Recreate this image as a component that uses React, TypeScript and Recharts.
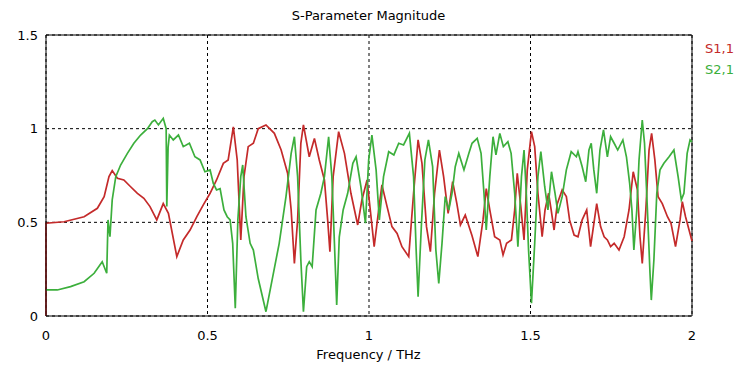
import React from "react";
import {
  LineChart,
  Line,
  XAxis,
  YAxis,
  CartesianGrid,
  ReferenceLine,
} from "recharts";

// S1,1 trace (frequency in THz, magnitude)
const s11Freq = [
  0, 0, 0.056, 0.118, 0.159, 0.18, 0.195, 0.205, 0.221, 0.241, 0.262, 0.283, 0.303, 0.322,
  0.343, 0.363, 0.379, 0.405, 0.425, 0.446, 0.467, 0.487, 0.508, 0.528, 0.549, 0.564, 0.58,
  0.592, 0.603, 0.613, 0.626, 0.642, 0.657, 0.681, 0.707, 0.728, 0.748, 0.759, 0.769, 0.779,
  0.789, 0.797, 0.815, 0.831, 0.846, 0.862, 0.872, 0.879, 0.889, 0.906, 0.924, 0.944, 0.965,
  0.978, 0.994, 1.004, 1.016, 1.03, 1.04, 1.056, 1.071, 1.087, 1.102, 1.123, 1.138, 1.152,
  1.164, 1.178, 1.19, 1.203, 1.218, 1.231, 1.245, 1.259, 1.272, 1.283, 1.298, 1.319, 1.337,
  1.353, 1.363, 1.374, 1.389, 1.405, 1.415, 1.426, 1.441, 1.451, 1.459, 1.47, 1.48, 1.49,
  1.503, 1.513, 1.523, 1.536, 1.545, 1.556, 1.564, 1.573, 1.583, 1.598, 1.611, 1.621, 1.635,
  1.647, 1.66, 1.674, 1.686, 1.705, 1.717, 1.728, 1.738, 1.748, 1.759, 1.774, 1.79, 1.805,
  1.818, 1.831, 1.839, 1.846, 1.857, 1.867, 1.875, 1.885, 1.895, 1.908, 1.924, 1.935, 1.949,
  1.963, 1.97, 1.98, 2.0,
];
const s11Mag = [
  0, 0.495, 0.503, 0.53, 0.575, 0.637, 0.744, 0.776, 0.735, 0.726, 0.69, 0.655, 0.628, 0.584,
  0.513, 0.6, 0.548, 0.317, 0.406, 0.459, 0.53, 0.593, 0.655, 0.726, 0.815, 0.833, 1.01,
  0.833, 0.406, 0.744, 0.904, 0.922, 1.0, 1.02, 0.975, 0.886, 0.762, 0.566, 0.281, 0.513,
  0.922, 1.02, 0.85, 0.948, 0.833, 0.726, 0.513, 0.343, 0.744, 0.984, 0.868, 0.655, 0.486,
  0.619, 0.726, 0.566, 0.37, 0.566, 0.7, 0.584, 0.477, 0.441, 0.37, 0.317, 0.655, 0.94,
  0.815, 0.477, 0.343, 0.655, 0.886, 0.744, 0.548, 0.717, 0.6, 0.486, 0.539, 0.428, 0.317,
  0.513, 0.68, 0.566, 0.423, 0.406, 0.326, 0.388, 0.406, 0.566, 0.762, 0.584, 0.406, 0.78,
  0.984, 0.904, 0.655, 0.423, 0.566, 0.655, 0.566, 0.459, 0.6, 0.673, 0.637, 0.513, 0.432,
  0.423, 0.513, 0.566, 0.37, 0.6, 0.477, 0.423, 0.406, 0.37, 0.388, 0.352, 0.423, 0.566,
  0.77, 0.673, 0.423, 0.281, 0.566, 0.886, 0.975, 0.833, 0.637, 0.6, 0.53, 0.495, 0.37,
  0.513, 0.61, 0.53, 0.4,
];

// S2,1 trace
const s21Freq = [
  0, 0.035, 0.076, 0.118, 0.149, 0.174, 0.188, 0.192, 0.198, 0.205, 0.216, 0.231, 0.252,
  0.272, 0.293, 0.314, 0.329, 0.337, 0.348, 0.363, 0.372, 0.374, 0.378, 0.382, 0.394, 0.41,
  0.425, 0.444, 0.461, 0.477, 0.492, 0.508, 0.518, 0.528, 0.539, 0.551, 0.561, 0.57, 0.578,
  0.586, 0.594, 0.603, 0.609, 0.619, 0.632, 0.642, 0.657, 0.681, 0.702, 0.722, 0.743, 0.759,
  0.769, 0.779, 0.789, 0.797, 0.807, 0.815, 0.824, 0.836, 0.851, 0.862, 0.875, 0.885, 0.893,
  0.9, 0.908, 0.92, 0.934, 0.95, 0.96, 0.975, 0.989, 0.999, 1.009, 1.022, 1.032, 1.045,
  1.061, 1.077, 1.092, 1.107, 1.125, 1.138, 1.146, 1.152, 1.162, 1.173, 1.184, 1.197, 1.207,
  1.216, 1.226, 1.236, 1.247, 1.257, 1.267, 1.278, 1.294, 1.309, 1.319, 1.335, 1.347, 1.356,
  1.363, 1.374, 1.384, 1.393, 1.405, 1.416, 1.43, 1.44, 1.451, 1.461, 1.472, 1.48, 1.487,
  1.494, 1.503, 1.513, 1.523, 1.532, 1.544, 1.554, 1.565, 1.576, 1.585, 1.598, 1.611, 1.626,
  1.642, 1.647, 1.66, 1.671, 1.681, 1.688, 1.696, 1.705, 1.715, 1.726, 1.738, 1.748, 1.759,
  1.77, 1.786, 1.797, 1.807, 1.814, 1.82, 1.829, 1.836, 1.846, 1.853, 1.862, 1.87, 1.874,
  1.882, 1.891, 1.901, 1.913, 1.929, 1.944, 1.957, 1.967, 1.975, 1.985, 1.994, 2.0,
];
const s21Mag = [
  0.139, 0.139, 0.157, 0.183, 0.228, 0.29, 0.228, 0.513, 0.423, 0.62, 0.744, 0.806, 0.868,
  0.922, 0.966, 1.0, 1.037, 1.046, 1.02, 1.055, 1.0, 0.584, 0.9, 0.966, 0.94, 0.966,
  0.904, 0.922, 0.85, 0.833, 0.77, 0.78, 0.708, 0.673, 0.68, 0.566, 0.53, 0.513, 0.388,
  0.041, 0.513, 0.744, 0.806, 0.53, 0.388, 0.352, 0.2, 0.023, 0.21, 0.388, 0.637, 0.868,
  0.957, 0.744, 0.299, 0.023, 0.263, 0.29, 0.263, 0.566, 0.655, 0.744, 0.957, 0.744, 0.388,
  0.059, 0.423, 0.566, 0.655, 0.815, 0.85, 0.69, 0.495, 0.833, 0.966, 0.78, 0.513, 0.744,
  0.877, 0.86, 0.922, 0.913, 0.975, 0.744, 0.352, 0.103, 0.477, 0.833, 0.94, 0.797, 0.352,
  0.174, 0.388, 0.637, 0.566, 0.655, 0.797, 0.868, 0.78, 0.868, 0.922, 0.948, 0.868, 0.655,
  0.459, 0.744, 0.957, 0.86, 0.975, 0.904, 0.93, 0.868, 0.655, 0.37, 0.744, 0.886, 0.655,
  0.352, 0.068, 0.388, 0.744, 0.877, 0.69, 0.566, 0.77, 0.655, 0.548, 0.637, 0.78, 0.877,
  0.85, 0.877, 0.797, 0.717, 0.886, 0.922, 0.78, 0.655, 0.886, 0.993, 0.85, 0.957, 0.922,
  0.886, 0.94, 0.85, 0.708, 0.566, 0.352, 0.566, 0.833, 1.046, 0.922, 0.566, 0.228, 0.085,
  0.299, 0.655, 0.78, 0.815, 0.85, 0.886, 0.744, 0.62, 0.655, 0.868, 0.94, 0.93,
];

const xTicks = [0, 0.5, 1, 1.5, 2];
const yTicks = [0, 0.5, 1, 1.5];

const RED = "#c42a2a";
const GREEN = "#3caf3c";
const FONT = "'DejaVu Sans', Verdana, sans-serif";

const s11Data = s11Freq.map((f, i) => ({ f, v: s11Mag[i] }));
const s21Data = s21Freq.map((f, i) => ({ f, v: s21Mag[i] }));

const fmt = (v: number) => String(v);

export default function App() {
  return (
    <div
      style={{
        position: "absolute",
        left: 0,
        top: 0,
        width: 737,
        height: 371,
        background: "#fff",
        fontFamily: FONT,
      }}
    >
      <div
        style={{
          position: "absolute",
          top: 8,
          left: 0,
          width: 737,
          textAlign: "center",
          fontSize: 13,
          color: "#000",
        }}
      >
        S-Parameter Magnitude
      </div>
      <LineChart
        width={737}
        height={371}
        margin={{ top: 35, right: 45, bottom: 15, left: 6 }}
      >
        <CartesianGrid stroke="#000" strokeDasharray="3 3" />
        <XAxis
          type="number"
          dataKey="f"
          domain={[0, 2]}
          ticks={xTicks}
          tickFormatter={fmt}
          height={40}
          tickLine={false}
          tickMargin={9}
          axisLine={{ stroke: "#000" }}
          tick={{ fill: "#000", fontSize: 13, fontFamily: FONT }}
          allowDuplicatedCategory={false}
        />
        <YAxis
          type="number"
          dataKey="v"
          domain={[0, 1.5]}
          ticks={yTicks}
          tickFormatter={fmt}
          width={40}
          tickLine={false}
          axisLine={{ stroke: "#000" }}
          tick={{ fill: "#000", fontSize: 13, fontFamily: FONT }}
        />
        <ReferenceLine y={1.5} stroke="#000" />
        <ReferenceLine x={2} stroke="#000" />
        <Line
          data={s11Data}
          dataKey="v"
          type="linear"
          stroke={RED}
          strokeWidth={1.7}
          dot={false}
          isAnimationActive={false}
        />
        <Line
          data={s21Data}
          dataKey="v"
          type="linear"
          stroke={GREEN}
          strokeWidth={1.7}
          dot={false}
          isAnimationActive={false}
        />
      </LineChart>
      <div
        style={{
          position: "absolute",
          top: 348,
          left: 0,
          width: 737,
          textAlign: "center",
          fontSize: 13,
          lineHeight: "13px",
          color: "#000",
        }}
      >
        Frequency / THz
      </div>
      <div style={{ position: "absolute", left: 705, top: 41, fontSize: 13, color: RED }}>
        S1,1
      </div>
      <div style={{ position: "absolute", left: 705, top: 62, fontSize: 13, color: GREEN }}>
        S2,1
      </div>
    </div>
  );
}
